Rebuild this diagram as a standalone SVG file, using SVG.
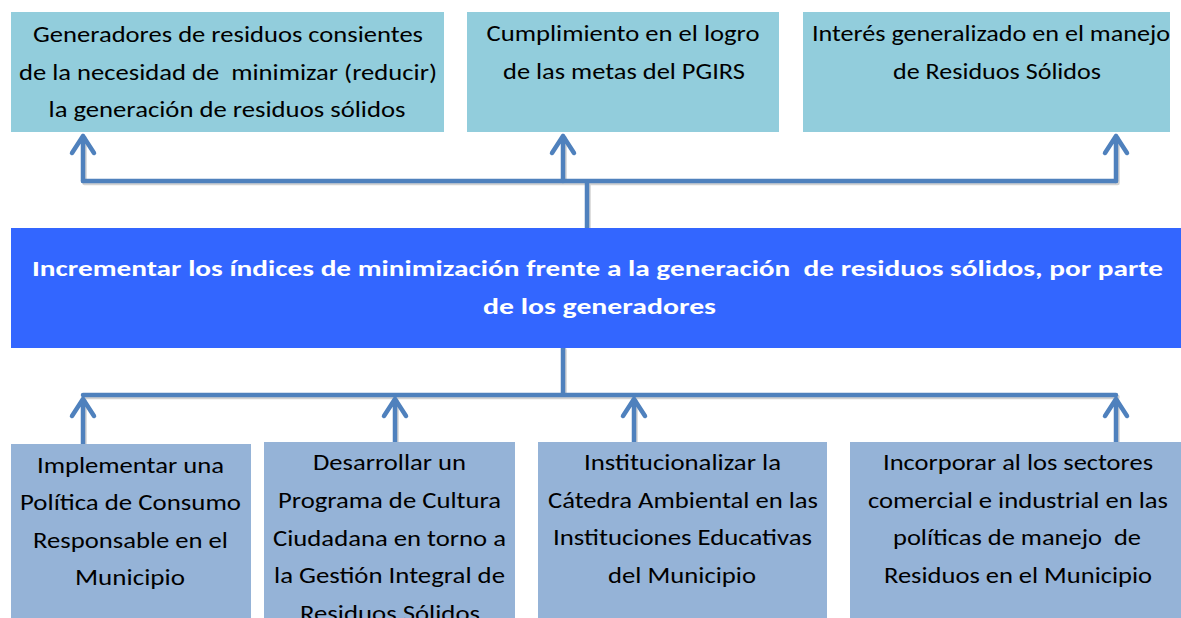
<svg xmlns="http://www.w3.org/2000/svg" width="1181" height="618" viewBox="0 0 1181 618">
<style>
.top{fill:#92CDDC}
.bot{fill:#95B3D7}
.main{fill:#3366FF}
.t{font-family:Carlito,Lato,"Liberation Sans",sans-serif;font-size:23px;fill:#000;text-anchor:middle}
.m{font-family:Carlito,Lato,"Liberation Sans",sans-serif;font-size:23px;font-weight:bold;fill:#fff;text-anchor:middle}
.c{fill:none;stroke:#4F81BD;stroke-width:4.5;stroke-linecap:round;stroke-linejoin:round}
.s{fill:none;stroke:#BFBFBF;stroke-width:4.5;stroke-linecap:round;stroke-linejoin:round;opacity:0.7}
</style>
<rect width="1181" height="618" fill="#fff"/>
<g id="connectors">
<g id="shadow" transform="translate(1.5,2)">
<path class="s" d="M83,181 H1116 M587,181 V228 M83,181 V136 M563,181 V136 M1116,181 V136 M563,348 V395 M83,395 H1116 M83,444 V399 M395,442 V399 M634,442 V399 M1116,442 V399"/>
</g>
<path class="c" d="M83,181 H1116 M587,181 V228"/>
<path class="c" d="M83,181 V136 M72,153 L83,136 L94,153"/>
<path class="c" d="M563,181 V136 M552,153 L563,136 L574,153"/>
<path class="c" d="M1116,181 V136 M1105,153 L1116,136 L1127,153"/>
<path class="c" d="M563,348 V395 M83,395 H1116"/>
<path class="c" d="M83,444 V399 M72,416 L83,399 L94,416"/>
<path class="c" d="M395,442 V399 M384,416 L395,399 L406,416"/>
<path class="c" d="M634,442 V399 M623,416 L634,399 L645,416"/>
<path class="c" d="M1116,442 V399 M1105,416 L1116,399 L1127,416"/>
</g>
<g id="top1">
<rect class="top" x="11" y="12" width="433" height="120"/>
<text class="t" x="228" y="42" textLength="390" lengthAdjust="spacingAndGlyphs">Generadores de residuos consientes</text>
<text class="t" x="228" y="80" textLength="418" lengthAdjust="spacingAndGlyphs" xml:space="preserve">de la necesidad de  minimizar (reducir)</text>
<text class="t" x="227" y="117" textLength="357" lengthAdjust="spacingAndGlyphs">la generación de residuos sólidos</text>
</g>
<g id="top2">
<rect class="top" x="467" y="12" width="312" height="120"/>
<text class="t" x="623" y="41" textLength="273" lengthAdjust="spacingAndGlyphs">Cumplimiento en el logro</text>
<text class="t" x="624" y="79" textLength="242" lengthAdjust="spacingAndGlyphs">de las metas del PGIRS</text>
</g>
<g id="top3">
<rect class="top" x="803" y="12" width="367" height="120"/>
<text class="t" x="991" y="41" textLength="358" lengthAdjust="spacingAndGlyphs">Interés generalizado en el manejo</text>
<text class="t" x="997" y="79" textLength="208" lengthAdjust="spacingAndGlyphs">de Residuos Sólidos</text>
</g>
<g id="main">
<rect class="main" x="11" y="228" width="1170" height="120"/>
<text class="m" x="597.5" y="276" textLength="1131" lengthAdjust="spacingAndGlyphs" xml:space="preserve">Incrementar los índices de minimización frente a la generación  de residuos sólidos, por parte</text>
<text class="m" x="599.5" y="314" textLength="233" lengthAdjust="spacingAndGlyphs">de los generadores</text>
</g>
<g id="bot1">
<rect class="bot" x="11" y="444" width="240" height="174"/>
<text class="t" x="130.5" y="473" textLength="187" lengthAdjust="spacingAndGlyphs">Implementar una</text>
<text class="t" x="130.5" y="510" textLength="221" lengthAdjust="spacingAndGlyphs">Política de Consumo</text>
<text class="t" x="130.5" y="548" textLength="195" lengthAdjust="spacingAndGlyphs">Responsable en el</text>
<text class="t" x="130" y="585" textLength="110" lengthAdjust="spacingAndGlyphs">Municipio</text>
</g>
<g id="bot2">
<rect class="bot" x="264" y="442" width="251" height="176"/>
<text class="t" x="389.5" y="470" textLength="153" lengthAdjust="spacingAndGlyphs">Desarrollar un</text>
<text class="t" x="389.5" y="508" textLength="223" lengthAdjust="spacingAndGlyphs">Programa de Cultura</text>
<text class="t" x="389.5" y="546" textLength="233" lengthAdjust="spacingAndGlyphs">Ciudadana en torno a</text>
<text class="t" x="389.5" y="583" textLength="231" lengthAdjust="spacingAndGlyphs">la Gestión Integral de</text>
<text class="t" x="390" y="621" textLength="180" lengthAdjust="spacingAndGlyphs">Residuos Sólidos</text>
</g>
<g id="bot3">
<rect class="bot" x="538" y="442" width="289" height="176"/>
<text class="t" x="682.5" y="470" textLength="197" lengthAdjust="spacingAndGlyphs">Institucionalizar la</text>
<text class="t" x="683" y="508" textLength="270" lengthAdjust="spacingAndGlyphs">Cátedra Ambiental en las</text>
<text class="t" x="682.5" y="545" textLength="259" lengthAdjust="spacingAndGlyphs">Instituciones Educativas</text>
<text class="t" x="682" y="583" textLength="148" lengthAdjust="spacingAndGlyphs">del Municipio</text>
</g>
<g id="bot4">
<rect class="bot" x="850" y="442" width="331" height="176"/>
<text class="t" x="1018" y="470" textLength="270" lengthAdjust="spacingAndGlyphs">Incorporar al los sectores</text>
<text class="t" x="1018" y="508" textLength="300" lengthAdjust="spacingAndGlyphs">comercial e industrial en las</text>
<text class="t" x="1017" y="545" textLength="248" lengthAdjust="spacingAndGlyphs" xml:space="preserve">políticas de manejo  de</text>
<text class="t" x="1018" y="583" textLength="268" lengthAdjust="spacingAndGlyphs">Residuos en el Municipio</text>
</g>
</svg>
